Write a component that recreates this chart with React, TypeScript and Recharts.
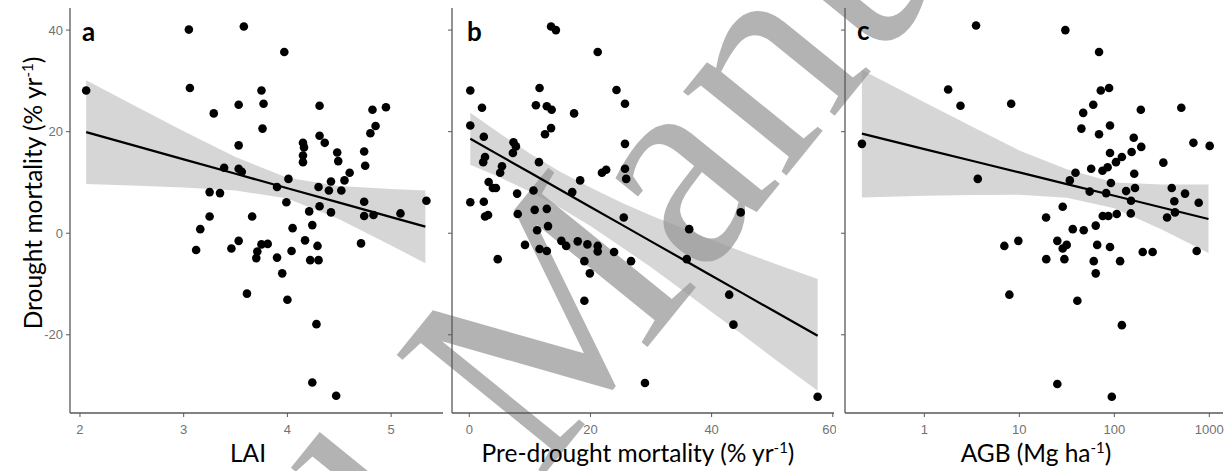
import React from 'react';
import { ComposedChart, Scatter, Line, Area, XAxis, YAxis } from 'recharts';

// shared y axis (drought mortality, % per year)
const yDomain: [number, number] = [-35.4, 44.35];
const yTicks = [-20, 0, 20, 40];

// panel a: LAI
const laiTicks = [2, 3, 4, 5];
const laiPoints: [number, number][] = [
  [2.06, 28.1], [3.05, 40.1], [3.58, 40.7], [3.97, 35.7], [3.06, 28.6], [3.75, 28.1], [3.77, 25.5],
  [3.53, 25.3], [3.29, 23.6], [4.31, 25.1], [4.82, 24.3], [4.95, 24.8], [3.76, 20.6], [4.85, 21.1],
  [4.8, 19.7], [4.31, 19.2], [4.36, 17.8], [3.53, 17.3], [4.15, 17.8], [4.16, 16.9], [4.15, 15.3],
  [4.15, 14.0], [4.48, 15.9], [4.49, 14.2], [4.74, 16.1], [4.75, 13.3], [3.39, 12.9], [3.53, 12.7],
  [3.56, 12.1], [4.6, 11.9], [4.01, 10.7], [4.55, 10.4], [4.42, 10.2], [3.9, 9.1], [4.3, 9.1],
  [4.4, 8.4], [4.52, 8.4], [3.25, 8.1], [3.35, 7.9], [3.99, 6.1], [4.74, 6.2], [5.34, 6.4],
  [4.31, 5.3], [4.21, 4.3], [4.42, 4.1], [4.74, 3.4], [4.83, 3.6], [5.09, 3.9], [3.25, 3.3],
  [3.66, 3.3], [3.16, 0.8], [4.05, 1.0], [4.24, 1.6], [3.12, -3.3], [3.46, -3.0], [3.53, -1.5],
  [3.75, -2.2], [3.81, -2.1], [3.71, -3.6], [3.7, -4.9], [3.9, -4.8], [4.04, -3.5], [4.17, -1.4],
  [4.29, -2.5], [4.22, -5.3], [4.3, -5.3], [4.71, -2.0], [3.95, -7.9], [3.61, -11.9], [4.0, -13.1],
  [4.28, -17.9], [4.24, -29.4], [4.47, -32.0],
];
const laiBandX = [2.06, 2.5, 3.0, 3.5, 4.0, 4.5, 5.0, 5.33];
const laiBandLow = [9.7, 9.4, 9.0, 8.4, 6.85, 2.75, -2.4, -5.9];
const laiBandHigh = [30.1, 25.4, 20.1, 15.0, 10.9, 9.3, 8.7, 8.4];
const laiFit = [19.9, 17.4, 14.55, 11.7, 8.86, 6.02, 3.17, 1.29];

// panel b: pre-drought mortality
const preTicks = [0, 20, 40, 60];
const prePoints: [number, number][] = [
  [0.17, 28.1], [13.5, 40.7], [14.3, 40.0], [21.2, 35.7], [11.6, 28.6], [24.3, 28.2], [25.7, 25.5],
  [2.1, 24.7], [11.0, 25.2], [12.8, 25.0], [13.6, 24.3], [17.3, 23.6], [0.17, 21.2], [13.5, 20.7],
  [12.5, 19.5], [2.4, 19.0], [7.3, 17.9], [7.7, 17.1], [25.7, 17.6], [7.2, 15.8], [2.6, 15.0],
  [2.3, 14.0], [11.5, 14.0], [5.4, 13.2], [5.1, 11.9], [22.6, 12.5], [21.9, 11.9], [25.7, 12.7],
  [25.9, 10.7], [18.3, 10.4], [3.2, 10.1], [3.9, 8.9], [4.4, 8.9], [7.9, 7.8], [10.6, 8.4],
  [17.0, 8.1], [0.17, 6.1], [2.4, 6.2], [44.8, 4.1], [2.6, 3.3], [3.1, 3.6], [8.0, 3.8],
  [10.8, 4.6], [12.8, 4.8], [25.5, 3.1], [13.0, 1.4], [11.2, 0.6], [36.3, 0.8], [9.2, -2.3],
  [4.7, -5.1], [11.6, -3.1], [12.8, -3.5], [15.2, -1.5], [16.0, -2.5], [17.9, -1.6], [19.5, -2.2],
  [21.2, -2.5], [21.2, -3.6], [23.9, -3.7], [26.7, -5.5], [19.0, -5.5], [19.9, -7.9], [35.9, -5.1],
  [19.0, -13.3], [42.9, -12.1], [43.6, -18.0], [29.0, -29.5], [57.5, -32.2],
];
const preBandX = [0.17, 5, 10, 15, 20, 25, 30, 35, 40, 45, 50, 57.5];
const preBandLow = [13.5, 11.0, 8.2, 5.0, 1.4, -2.6, -6.7, -11.1, -15.5, -19.9, -24.4, -31.0];
const preBandHigh = [23.7, 19.7, 15.7, 12.1, 9.0, 6.1, 3.5, 1.1, -1.3, -3.6, -5.8, -9.0];
const preFit = [18.6, 15.33, 11.95, 8.56, 5.18, 1.79, -1.6, -4.98, -8.37, -11.75, -15.13, -20.2];

// panel c: AGB (log scale)
const agbTicks = [1, 10, 100, 1000];
const agbPoints: [number, number][] = [
  [0.22, 17.6], [3.5, 40.9], [30.5, 40.0], [69, 35.7], [1.78, 28.3], [72, 28.1], [88, 28.6],
  [2.4, 25.1], [8.2, 25.5], [60, 25.3], [47, 23.7], [190, 24.3], [507, 24.7], [45, 20.6],
  [69, 19.5], [90, 21.2], [160, 18.8], [192, 17.0], [680, 17.8], [1009, 17.2], [90, 15.8],
  [152, 16.0], [120, 15.0], [104, 14.0], [328, 13.9], [57, 12.7], [75, 12.3], [85, 13.0],
  [39, 11.9], [162, 11.7], [3.65, 10.7], [34, 10.4], [92, 9.9], [165, 8.9], [55, 8.2],
  [82, 7.9], [133, 8.3], [402, 8.9], [555, 7.8], [150, 6.4], [428, 6.3], [773, 6.0],
  [28.6, 5.2], [19.1, 3.1], [75.5, 3.4], [86.5, 3.4], [106, 3.8], [149, 3.9], [359, 3.1],
  [435, 4.1], [36.5, 0.8], [47.6, 0.6], [63.7, 1.5], [6.95, -2.5], [9.76, -1.5], [25.1, -1.5],
  [28.6, -3.0], [31.5, -2.3], [66, -2.3], [90, -2.7], [199, -3.7], [253, -3.7], [736, -3.5],
  [19.2, -5.1], [29.8, -5.1], [60.7, -5.5], [115, -5.5], [63.7, -7.9], [7.85, -12.1], [40.8, -13.3],
  [120, -18.1], [25.1, -29.7], [94, -32.2],
];
const agbBandX = [0.22, 1, 3.16, 10, 31.6, 100, 316, 980];
const agbBandLow = [7.05, 7.36, 7.53, 7.6, 7.0, 4.94, 0.71, -3.9];
const agbBandHigh = [32.15, 25.78, 21.0, 16.3, 12.6, 10.0, 9.6, 9.6];
const agbFit = [19.6, 16.57, 14.27, 11.97, 9.67, 7.37, 5.07, 2.8];

const AXIS = '#595959';
const TICK_TEXT = '#727272';
const TITLE_FONT = 'Lato, "Open Sans", sans-serif';
const TITLE_SIZE = 24.5;

const toPoints = (pts: [number, number][]) => pts.map(([x, y]) => ({ x, y }));
const toBand = (xs: number[], low: number[], high: number[], fit: number[]) =>
  xs.map((x, i) => ({ x, band: [low[i], high[i]], fit: fit[i] }));

const Dot = (props: any) => <circle cx={props.cx} cy={props.cy} r={4.3} fill="#000" />;
const NoTick = () => <g />;

interface PanelProps {
  left: number;
  width: number;
  yAxisWidth: number;
  marginRight: number;
  xDomain: [number, number];
  xTicks: number[];
  logX?: boolean;
  showYLabels: boolean;
  points: { x: number; y: number }[];
  band: { x: number; band: number[]; fit: number }[];
}

const tickStyle = { fill: TICK_TEXT, fontSize: 13, fontFamily: '"Liberation Sans", Arial, sans-serif' };

function Panel({ left, width, yAxisWidth, marginRight, xDomain, xTicks, logX, showYLabels, points, band }: PanelProps) {
  return (
    <div style={{ position: 'absolute', left, top: 0 }}>
      <ComposedChart width={width} height={471} data={band} margin={{ top: 8, right: marginRight, bottom: 0, left: 0 }}>
        <XAxis
          dataKey="x"
          type="number"
          scale={logX ? 'log' : 'linear'}
          domain={xDomain}
          ticks={xTicks}
          allowDataOverflow
          height={58}
          tickSize={4}
          tickMargin={8}
          tick={tickStyle}
          tickLine={{ stroke: AXIS }}
          axisLine={{ stroke: AXIS, strokeWidth: 1.3 }}
        />
        <XAxis xAxisId="top" orientation="top" type="number" domain={[0, 1]} height={0} tick={false} tickLine={false} axisLine={{ stroke: AXIS, strokeWidth: 1.3 }} />
        <YAxis
          type="number"
          domain={yDomain}
          ticks={yTicks}
          allowDataOverflow
          width={yAxisWidth}
          tickSize={4}
          tickMargin={3}
          tick={showYLabels ? tickStyle : NoTick}
          tickLine={{ stroke: AXIS }}
          axisLine={{ stroke: AXIS, strokeWidth: 1.3 }}
        />
        <YAxis yAxisId="right" orientation="right" type="number" domain={[0, 1]} width={0} tick={false} tickLine={false} axisLine={{ stroke: AXIS, strokeWidth: 1.3 }} />
        <Area dataKey="band" type="linear" fill="#999999" fillOpacity={0.4} stroke="none" isAnimationActive={false} />
        <Line dataKey="fit" type="linear" stroke="#000" strokeWidth={2.2} dot={false} isAnimationActive={false} />
        <Scatter data={points} dataKey="y" shape={Dot} isAnimationActive={false} />
      </ComposedChart>
    </div>
  );
}

export default function App() {
  return (
    <div style={{ position: 'absolute', left: 0, top: 0, width: 1224, height: 471, background: '#fff', overflow: 'hidden' }}>
      {/* watermark, behind the plots */}
      <svg width={1224} height={471} style={{ position: 'absolute', left: 0, top: 0 }}>
        <g transform="translate(539,481) rotate(-51)" fill="#808080" fillOpacity={0.6} fontFamily='"Liberation Serif", serif' fontSize={290}>
          <text x={0} y={0}>Manuscript</text>
          <text x={-80} y={0} textAnchor="end">Accepted</text>
        </g>
      </svg>

      <Panel left={0} width={445} yAxisWidth={70} marginRight={2} xDomain={[1.904, 5.5]} xTicks={laiTicks}
        showYLabels points={toPoints(laiPoints)} band={toBand(laiBandX, laiBandLow, laiBandHigh, laiFit)} />
      <Panel left={400} width={436} yAxisWidth={52} marginRight={2} xDomain={[-2.85, 60.2]} xTicks={preTicks}
        showYLabels={false} points={toPoints(prePoints)} band={toBand(preBandX, preBandLow, preBandHigh, preFit)} />
      <Panel left={800} width={424} yAxisWidth={45} marginRight={1} xDomain={[0.146, 1393]} xTicks={agbTicks} logX
        showYLabels={false} points={toPoints(agbPoints)} band={toBand(agbBandX, agbBandLow, agbBandHigh, agbFit)} />

      {/* titles and panel tags */}
      <svg width={1224} height={471} style={{ position: 'absolute', left: 0, top: 0, pointerEvents: 'none' }}>
        <g fontFamily={TITLE_FONT} fill="#000">
          <text transform="translate(42,193) rotate(-90)" textAnchor="middle" fontSize={TITLE_SIZE}>
            Drought mortality (% yr<tspan dy={-9} fontSize={15}>-1</tspan><tspan dy={9}>)</tspan>
          </text>
          <text x={248} y={462} textAnchor="middle" fontSize={TITLE_SIZE}>LAI</text>
          <text x={638} y={462} textAnchor="middle" fontSize={TITLE_SIZE}>
            Pre-drought mortality (% yr<tspan dy={-9} fontSize={15}>-1</tspan><tspan dy={9}>)</tspan>
          </text>
          <text x={1036} y={462} textAnchor="middle" fontSize={TITLE_SIZE}>
            AGB (Mg ha<tspan dy={-9} fontSize={15}>-1</tspan><tspan dy={9}>)</tspan>
          </text>
          <text x={82} y={41} fontSize={26} fontWeight="bold">a</text>
          <text x={467} y={41} fontSize={26} fontWeight="bold">b</text>
          <text x={857} y={40} fontSize={26} fontWeight="bold">c</text>
        </g>
      </svg>
    </div>
  );
}
